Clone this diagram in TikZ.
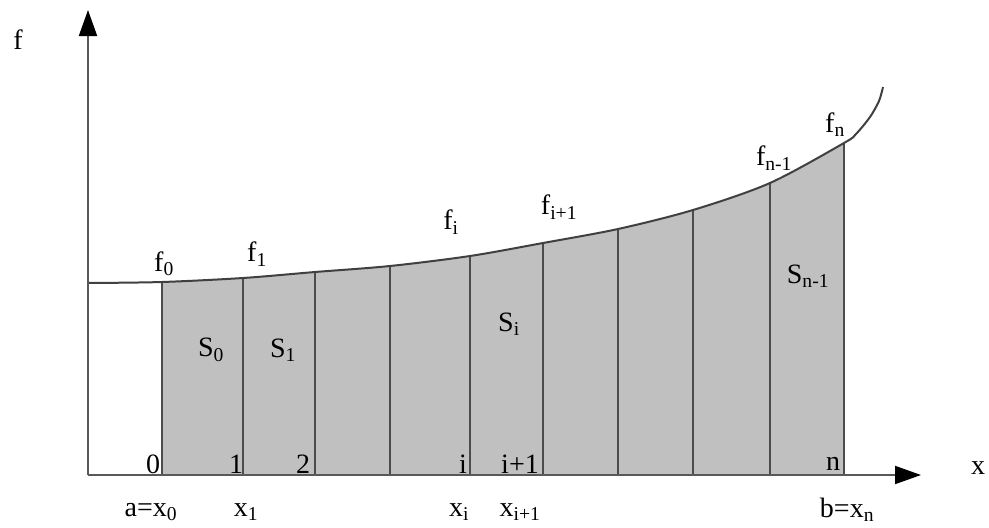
\documentclass[tikz,border=0pt]{standalone}
\usepackage{fontspec}
\setmainfont{Liberation Serif}
\usetikzlibrary{arrows.meta}
\newcommand\sbs[1]{\textsubscript{#1}}
\tikzset{
  lbl/.style={inner sep=0pt,font=\fontsize{28}{32}\selectfont},
  axisline/.style={draw=black!65,line width=2pt,-{Triangle[length=26pt,width=18pt,color=black]}},
  ordinate/.style={draw=black!70,line width=1.5pt},
  curveline/.style={draw=black!75,line width=2pt},
}
\begin{document}
\begin{tikzpicture}[x=1pt,y=-1pt]
\useasboundingbox (0,0) rectangle (989,528);
\def\curvepts{(88,283) (162,282) (243,278) (315,272) (390,266) (470,256) (543,243) (618,229) (693,210) (770,183) (844,143) (856,134) (870,117) (879,101) (883,87)}
% shaded area
\begin{scope}
  \clip plot[smooth,tension=0.5] coordinates {\curvepts} -- (883,475) -- (88,475) -- cycle;
  \fill[fill={rgb,255:red,192;green,192;blue,192}] (162,475) rectangle (844,0);
\end{scope}
% ordinates
\foreach \xx in {162,243,315,390,470,543,618,693,770,844}{
  \draw[ordinate] (\xx,475) -- (\xx,100);
}
% mask above curve to trim ordinates
\fill[white] plot[smooth,tension=0.5] coordinates {\curvepts} -- (883,20) -- (88,20) -- cycle;
\draw[curveline] plot[smooth,tension=0.5] coordinates {\curvepts};
% axes
\coordinate (O) at (88,475);
\coordinate (xend) at (921,475);
\coordinate (yend) at (88,10);
\draw[axisline] (O) -- (xend);
\draw[axisline] (O) -- (yend);
% labels
\node[lbl] (lf) at (18,40) {f};
\node[lbl] (lx) at (978,468) {x};
\node[lbl] (f0) at (164,264) {f\sbs{0}};
\node[lbl] (f1) at (257,254) {f\sbs{1}};
\node[lbl] (fi) at (451,222) {f\sbs{i}};
\node[lbl] (fi1) at (559,207) {f\sbs{i+1}};
\node[lbl] (fn1) at (774,158) {f\sbs{n-1}};
\node[lbl] (fn) at (835,125) {f\sbs{n}};
\node[lbl] (S0) at (211,350) {S\sbs{0}};
\node[lbl] (S1) at (283,350) {S\sbs{1}};
\node[lbl] (Si) at (509,324) {S\sbs{i}};
\node[lbl] (Sn1) at (808,276) {S\sbs{n-1}};
\node[lbl] (n0) at (153,464) {0};
\node[lbl] (n1) at (236,464) {1};
\node[lbl] (n2) at (303,464) {2};
\node[lbl] (ni) at (463,464) {i};
\node[lbl] (ni1) at (520,464) {i+1};
\node[lbl] (nn) at (833,464) {n};
\node[lbl] (xa) at (151,512) {a=x\sbs{0}};
\node[lbl] (x1) at (246,512) {x\sbs{1}};
\node[lbl] (xi) at (459,512) {x\sbs{i}};
\node[lbl] (xi1) at (520,512) {x\sbs{i+1}};
\node[lbl] (xb) at (847,510) {b=x\sbs{n}};
\end{tikzpicture}
\end{document}
